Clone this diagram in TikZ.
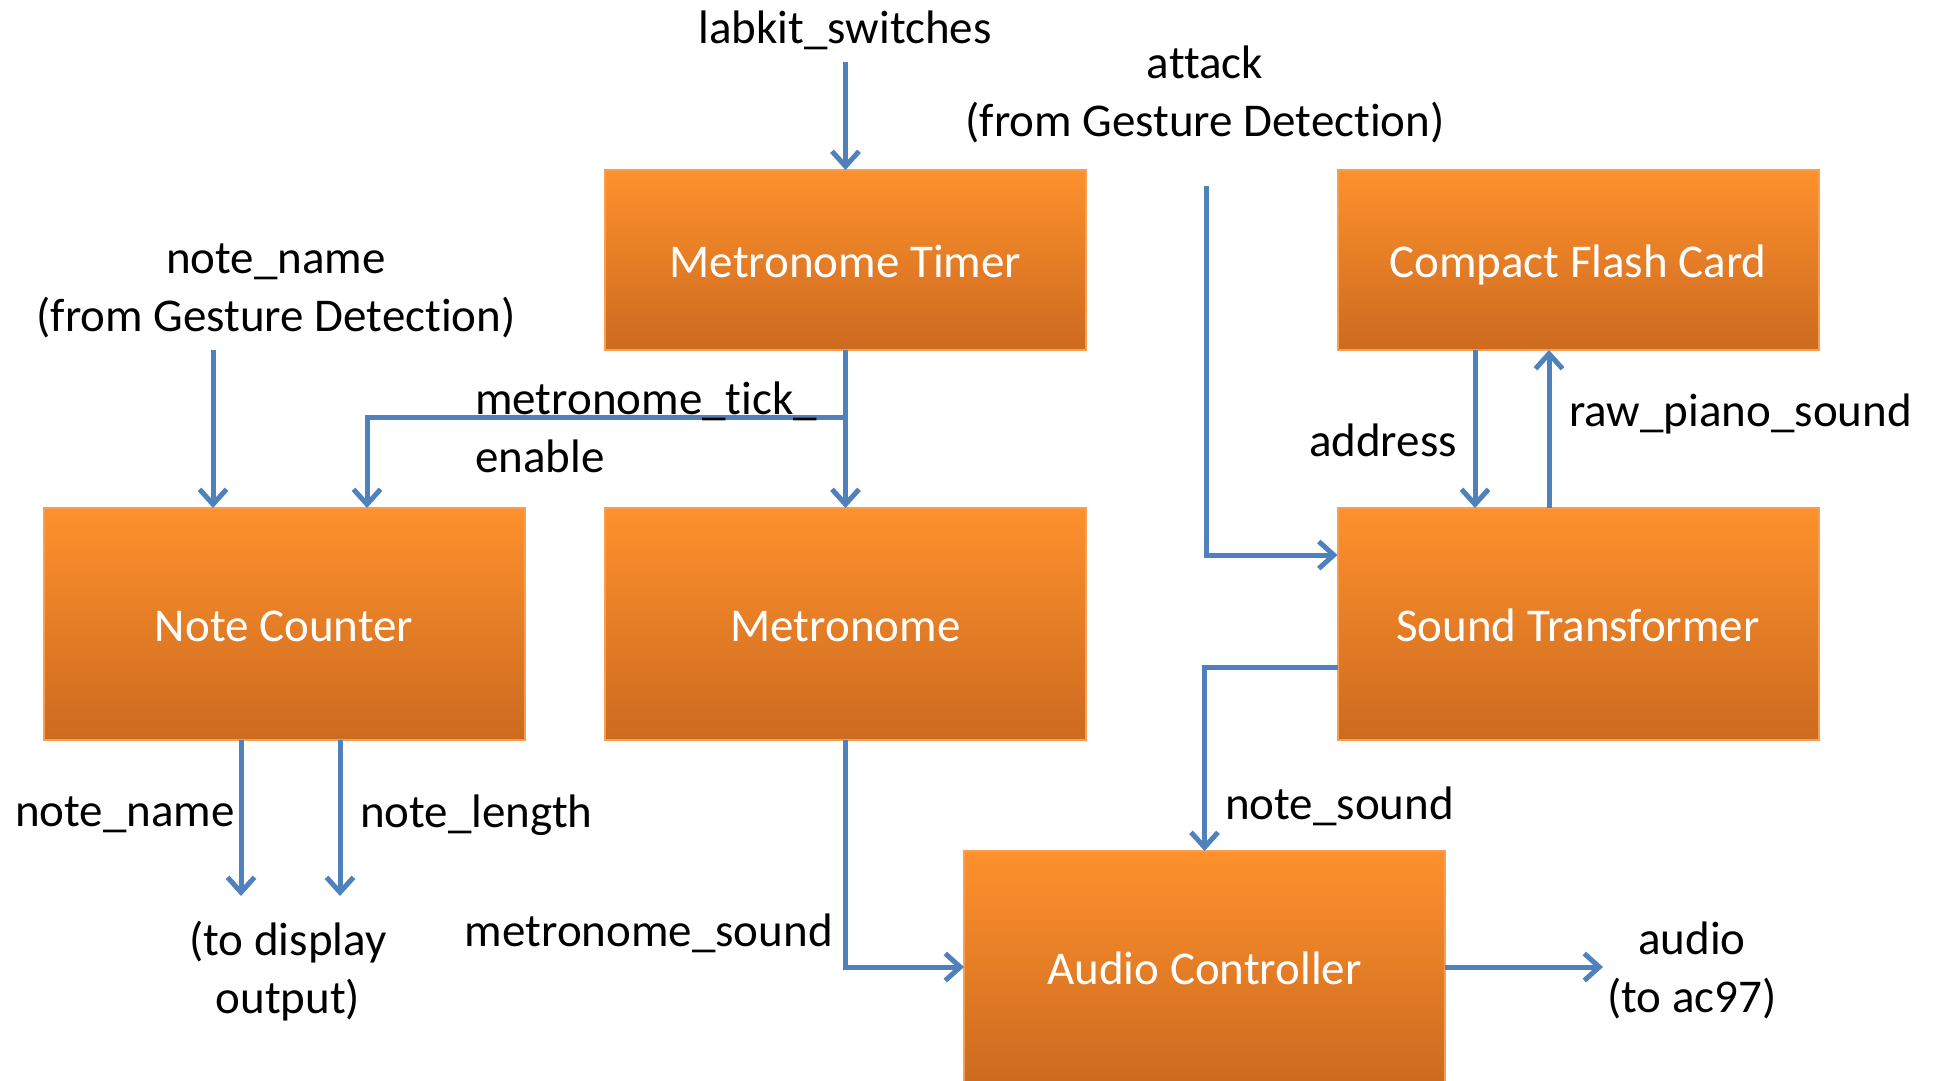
\documentclass[tikz,border=0pt]{standalone}
\usepackage{fontspec}
\setmainfont{Carlito}[Ligatures={NoCommon,NoRare,NoContextual}]
\usetikzlibrary{arrows.meta,calc}
\definecolor{otop}{RGB}{254,145,45}
\definecolor{obot}{RGB}{204,106,31}
\definecolor{oline}{RGB}{248,158,78}
\definecolor{ablue}{RGB}{79,129,189}
\begin{document}
\begin{tikzpicture}[x=1pt,y=-1pt,
  blk/.style={draw=oline, line width=2pt, top color=otop, bottom color=obot,
    minimum width=481pt, text=white, inner sep=0pt, outer sep=0pt,
    text height=38pt, text depth=4pt,
    font=\fontsize{47}{58}\selectfont},
  tallblk/.style={blk, minimum height=232pt},
  shortblk/.style={blk, minimum height=180pt},
  lbl/.style={font=\fontsize{47}{58}\selectfont, inner sep=0pt, text=black, yshift=-3pt},
  arr/.style={draw=ablue, line width=5pt, -{Straight Barb[length=15pt,width=27pt]}}]
\useasboundingbox (0,0) rectangle (1940,1080);

% blocks
\node[shortblk] (MT) at (845.5,260) {Metronome Timer};
\node[shortblk] (CF) at (1578,260) {Compact Flash Card};
\node[tallblk] (NC) at (284,624) {Note Counter};
\node[tallblk] (M) at (845.5,624) {Metronome};
\node[tallblk] (ST) at (1578,624) {Sound Transformer};
\node[tallblk] (AC) at (1204.5,967) {Audio Controller};

% free ends
\coordinate (lk) at (845.5,62);
\coordinate (atk) at (1206,186);
\coordinate (nn) at (213,350);
\coordinate (tk) at (845.5,417);
\coordinate (dn1) at (241,896);
\coordinate (dn2) at (340,896);
\coordinate (aud) at (1603,967);

% connectors
\draw[arr] (lk) -- (MT.north);
\draw[arr] (atk) |- ([yshift=69pt]ST.west);
\draw[arr] (nn) -- (nn |- NC.north);
\draw[arr] (MT.south) -- (M.north);
\draw[arr] (tk) -| ([xshift=83pt]NC.north);
\draw[arr] (dn1 |- NC.south) -- (dn1);
\draw[arr] (dn2 |- NC.south) -- (dn2);
\draw[arr] (M.south) |- (AC.west);
\draw[arr] ([yshift=-43pt]ST.west) -| (AC.north);
\draw[arr] ([xshift=-103pt]CF.south) -- ([xshift=-103pt]ST.north);
\draw[arr] ([xshift=-29pt]ST.north) -- ([xshift=-29pt]CF.south);
\draw[arr] (AC.east) -- (aud);

% labels
\node[lbl] (l1) at (845,27) {labkit\_switches};
\node[lbl, align=center] (l2) at (1205,91) {attack\\(from Gesture Detection)};
\node[lbl, align=center] (l3) at (276,288) {note\_name\\(from Gesture Detection)};
\node[lbl, align=left, anchor=west] (l4) at (475,424) {metronome\_tick\_\\enable};
\node[lbl, anchor=east] (l5) at (235,812) {note\_name};
\node[lbl, anchor=west] (l6) at (360,812) {note\_length};
\node[lbl, align=center] (l7) at (288,968) {(to display\\output)};
\node[lbl, anchor=east] (l8) at (833,930) {metronome\_sound};
\node[lbl, anchor=west] (l9) at (1225,803) {note\_sound};
\node[lbl, anchor=east] (l10) at (1457,437) {address};
\node[lbl, anchor=west] (l11) at (1569,411) {raw\_piano\_sound};
\node[lbl, align=center] (l12) at (1692,967) {audio\\(to ac97)};
\end{tikzpicture}
\end{document}
